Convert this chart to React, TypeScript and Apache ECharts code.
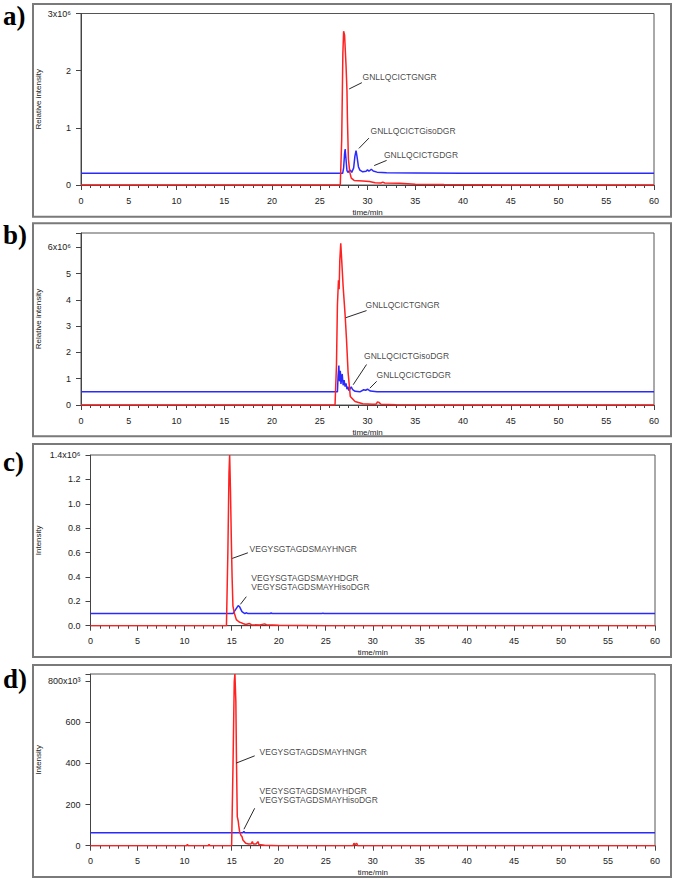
import React, { useEffect, useRef } from "react";
import * as echarts from "echarts";

// ---------- data (time in min, intensity in axis units) ----------
const redA: number[][] = [[0,0],[27.15,0],[27.3,0.8],[27.42,2.3],[27.5,2.69],[27.6,2.62],[27.75,2.1],[27.85,1.65],[27.9,1.15],[28.0,0.45],[28.15,0.22],[28.3,0.12],[28.6,0.08],[29.5,0.07],[30.2,0.06],[30.8,0.04],[31.4,0.035],[31.6,0.05],[31.8,0.035],[33.4,0.03],[35,0.015],[38,0.01],[42,0.005],[45,0],[60,0]];
const blueA: number[][] = [[0,0.205],[27.4,0.205],[27.5,0.3],[27.6,0.55],[27.66,0.63],[27.75,0.45],[27.85,0.25],[27.95,0.22],[28.1,0.25],[28.2,0.26],[28.35,0.22],[28.55,0.3],[28.68,0.5],[28.8,0.6],[28.9,0.5],[29.05,0.32],[29.2,0.26],[29.5,0.23],[29.85,0.24],[30.0,0.265],[30.15,0.24],[30.4,0.275],[30.6,0.245],[31.0,0.225],[32,0.215],[35,0.21],[40,0.205],[60,0.205]];

const redB: number[][] = [[0,0],[26.6,0],[26.75,1.5],[26.85,3.8],[26.96,4.74],[27.03,4.4],[27.1,5.5],[27.2,6.15],[27.3,5.5],[27.45,4.5],[27.66,3.4],[27.8,2.5],[27.97,1.23],[28.2,0.32],[28.7,0.13],[29.5,0.05],[30.5,0.03],[30.9,0.03],[31.05,0.12],[31.2,0.1],[31.4,0.03],[33,0.01],[36,0],[60,0]];
const blueB: number[][] = [[0,0.5],[26.85,0.5],[26.92,1.1],[27.0,1.5],[27.07,0.9],[27.15,1.3],[27.22,0.8],[27.35,1.18],[27.45,0.75],[27.55,0.95],[27.65,0.7],[27.75,0.82],[27.85,0.6],[27.95,0.7],[28.05,0.55],[28.15,0.6],[28.3,0.69],[28.45,0.58],[28.7,0.52],[29.2,0.5],[29.6,0.58],[29.8,0.56],[30.0,0.6],[30.3,0.53],[31,0.5],[60,0.5]];

const redC: number[][] = [[0,0],[14.45,0],[14.6,0.6],[14.72,1.25],[14.79,1.4],[14.88,1.1],[14.97,0.7],[15.05,0.4],[15.14,0.16],[15.3,0.1],[15.5,0.05],[15.8,0.03],[16.0,0.025],[16.2,0.018],[16.5,0.01],[16.9,0.018],[17.1,0.008],[18.0,0.005],[18.5,0.015],[18.7,0.008],[20,0.003],[25,0],[60,0]];
const blueC: number[][] = [[0,0.1],[15.15,0.1],[15.4,0.13],[15.7,0.165],[15.85,0.155],[16.1,0.115],[16.4,0.1],[16.6,0.106],[16.7,0.1],[19.1,0.1],[19.2,0.104],[19.3,0.1],[24.6,0.1],[24.7,0.103],[24.8,0.1],[60,0.1]];

const redD: number[][] = [[0,0],[10.2,0],[10.3,6],[10.4,0],[12.5,0],[12.6,6],[12.7,0],[15.0,0],[15.15,400],[15.28,800],[15.35,835],[15.45,700],[15.52,400],[15.6,141],[15.7,120],[15.75,100],[15.85,68],[16.0,50],[16.1,45],[16.2,28],[16.5,12],[16.8,8],[17.1,10],[17.2,20],[17.3,8],[17.6,8],[17.8,20],[17.9,6],[18.5,2],[20,0],[27.9,0],[28.0,12],[28.1,5],[28.3,12],[28.4,0],[60,0]];
const blueD: number[][] = [[0,63],[16.2,63],[16.3,70],[16.4,63],[60,63]];

// annotations: leader line start, leader line end, label anchor, text
const notesA = [
  { from: [28.08, 1.68], to: [29.41, 1.79], at: [29.49, 1.89], text: "GNLLQCICTGNGR" },
  { from: [29.1, 0.64], to: [30.15, 0.82], at: [30.33, 0.95], text: "GNLLQCICTGisoDGR" },
  { from: [30.7, 0.34], to: [32.0, 0.43], at: [31.72, 0.53], text: "GNLLQCICTGDGR" },
];
const notesB = [
  { from: [27.73, 3.32], to: [29.9, 3.59], at: [29.8, 3.81], text: "GNLLQCICTGNGR" },
  { from: [28.5, 0.77], to: [29.9, 1.54], at: [29.65, 1.86], text: "GNLLQCICTGisoDGR" },
  { from: [30.25, 0.64], to: [30.96, 0.9], at: [30.96, 1.13], text: "GNLLQCICTGDGR" },
];
const notesC = [
  { from: [15.07, 0.552], to: [16.73, 0.598], at: [16.91, 0.626], text: "VEGYSGTAGDSMAYHNGR" },
  { from: [15.93, 0.175], to: [16.56, 0.238], at: [17.1, 0.352], text: "VEGYSGTAGDSMAYHDGR\nVEGYSGTAGDSMAYHisoDGR" },
];
const notesD = [
  { from: [15.5, 402], to: [17.45, 437], at: [17.98, 456], text: "VEGYSGTAGDSMAYHNGR" },
  { from: [16.31, 80], to: [17.45, 182], at: [17.98, 245], text: "VEGYSGTAGDSMAYHDGR\nVEGYSGTAGDSMAYHisoDGR" },
];

const panelLabels = ["a)", "b)", "c)", "d)"];
const yNames = ["Relative intensity", "Relative intensity", "Intensity", "Intensity"];
const yMax = [3, 6.54, 1.4, 835];
const yInterval = [1, 1, 0.2, 200];
const yTopLabel = ["3x10⁶", "6x10⁶", "1.4x10⁶", "800x10³"];
const yTopValue = [3, 6, 1.4, 800];
const xName = "time/min";

const FONT = "Liberation Sans, Arial, sans-serif";
const RED = "#ff2020";
const BLUE = "#2a2aff";

export default function App() {
  const ref = useRef<HTMLDivElement>(null);
  useEffect(() => {
    if (!ref.current) return;
    const chart = echarts.init(ref.current, undefined, { renderer: "svg" });

    const grids = [
      { left: 81, top: 13.5, width: 573, height: 171.5 },
      { left: 81, top: 233, width: 573, height: 172 },
      { left: 90.5, top: 455, width: 564.5, height: 170.7 },
      { left: 90.5, top: 674, width: 564.5, height: 171.7 },
    ].map((g) => ({ ...g, show: true, borderColor: "#555", borderWidth: 1, backgroundColor: "transparent" }));

    const frames = [
      [4, 216.7],
      [223.3, 436.3],
      [444, 657],
      [665, 877],
    ];
    const labelY = [16, 235, 462, 679];

    const xAxes = [0, 1, 2, 3].map((i) => ({
      type: "value",
      gridIndex: i,
      min: 0,
      max: 60,
      interval: 5,
      name: xName,
      nameLocation: "middle",
      nameGap: 23,
      nameMoveOverlap: false,
      nameTextStyle: { fontFamily: FONT, fontSize: 8, color: "#222" },
      axisLine: { show: true, lineStyle: { color: "#444", width: 1 } },
      axisTick: { show: true, length: 5, lineStyle: { color: "#444" } },
      minorTick: { show: true, splitNumber: 5, length: 3, lineStyle: { color: "#444" } },
      axisLabel: { fontFamily: FONT, fontSize: 9, color: "#222", margin: 11 },
      splitLine: { show: false },
    }));

    const yAxes = [0, 1, 2, 3].map((i) => ({
      type: "value",
      gridIndex: i,
      min: 0,
      max: yMax[i],
      interval: yInterval[i],
      name: yNames[i],
      nameLocation: "middle",
      nameRotate: 90,
      nameGap: i < 2 ? 39 : 48,
      nameMoveOverlap: false,
      nameTextStyle: { fontFamily: FONT, fontSize: 8, color: "#222" },
      axisLine: { show: true, lineStyle: { color: "#444", width: 1 } },
      axisTick: { show: true, length: 5, lineStyle: { color: "#444" } },
      splitLine: { show: false },
      axisLabel: {
        fontFamily: FONT,
        fontSize: 9,
        color: "#222",
        margin: 10,
        showMaxLabel: true,
        formatter: (v: number) => {
          if (Math.abs(v - yTopValue[i]) < 1e-6) return yTopLabel[i];
          if (v > yTopValue[i]) return "";
          if (i === 2) return v.toFixed(1);
          return String(Math.round(v));
        },
      },
    }));

    const lineSeries = (data: number[][], idx: number, color: string) => ({
      type: "line",
      xAxisIndex: idx,
      yAxisIndex: idx,
      data,
      showSymbol: false,
      symbol: "none",
      silent: true,
      color,
      lineStyle: { color, width: 1.5 },
      z: color === RED ? 3 : 2,
    });

    const series: any[] = [];
    const blues = [blueA, blueB, blueC, blueD];
    const reds = [redA, redB, redC, redD];
    const notes = [notesA, notesB, notesC, notesD];
    for (let i = 0; i < 4; i++) {
      series.push(lineSeries(blues[i], i, BLUE));
      series.push(lineSeries(reds[i], i, RED));
      notes[i].forEach((n) => {
        series.push({
          type: "line",
          xAxisIndex: i,
          yAxisIndex: i,
          data: [n.from, n.to],
          showSymbol: false,
          symbol: "none",
          silent: true,
          color: "#111",
          lineStyle: { color: "#111", width: 0.9 },
          z: 4,
        });
      });
      series.push({
        type: "scatter",
        xAxisIndex: i,
        yAxisIndex: i,
        silent: true,
        symbolSize: 0.1,
        itemStyle: { color: "rgba(0,0,0,0)" },
        data: notes[i].map((n) => ({ value: n.at, name: n.text })),
        label: {
          show: true,
          formatter: "{b}",
          position: [0, 0],
          align: "left",
          verticalAlign: "middle",
          fontFamily: FONT,
          fontSize: 8.5,
          lineHeight: 9,
          color: "#111",
        },
        z: 5,
      });
    }

    const graphic: any[] = [];
    frames.forEach((f, i) => {
      graphic.push({
        type: "rect",
        shape: { x: 33, y: f[0], width: 638, height: f[1] - f[0] },
        style: { fill: "none", stroke: "#7a7a7a", lineWidth: 2 },
        silent: true,
      });
      graphic.push({
        type: "text",
        x: 3,
        y: labelY[i],
        style: {
          text: panelLabels[i],
          fontFamily: "Liberation Serif, Times New Roman, serif",
          fontWeight: "bold",
          fontSize: 27,
          fill: "#000",
          verticalAlign: "middle",
          align: "left",
        },
        silent: true,
      });
    });

    chart.setOption({
      animation: false,
      backgroundColor: "#fff",
      grid: grids,
      xAxis: xAxes,
      yAxis: yAxes,
      series,
      graphic,
    });
    return () => chart.dispose();
  }, []);
  return (
    <div
      ref={ref}
      style={{ position: "absolute", left: 0, top: 0, width: 675, height: 880, background: "#fff" }}
    />
  );
}
